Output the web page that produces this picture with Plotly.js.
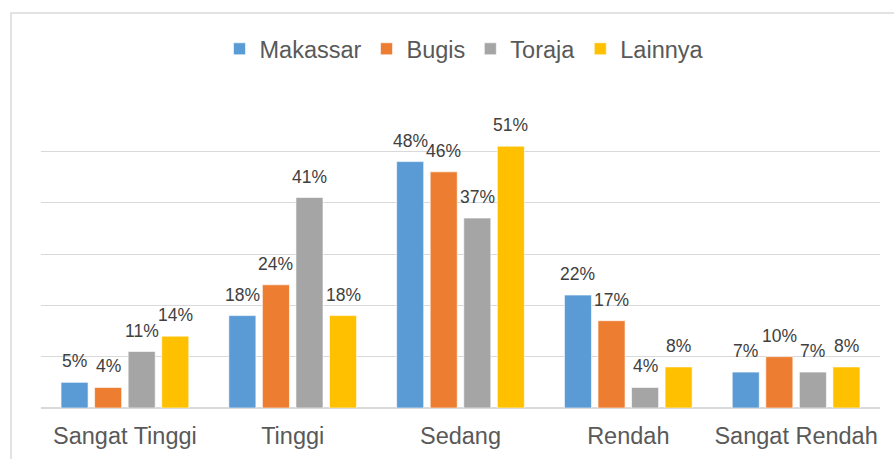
<!DOCTYPE html>
<html>
<head>
<meta charset="utf-8">
<script src="https://cdn.plot.ly/plotly-3.0.1.min.js"></script>
<style>html,body{margin:0;padding:0;background:#fff;}#chart{width:894px;height:459px;}</style>
</head>
<body>
<div id="chart"></div>
<script>
const categories = ["Sangat Tinggi", "Tinggi", "Sedang", "Rendah", "Sangat Rendah"];
const seriesNames = ["Makassar", "Bugis", "Toraja", "Lainnya"];
const makassar = [0.05, 0.18, 0.48, 0.22, 0.07];
const bugis    = [0.04, 0.24, 0.46, 0.17, 0.10];
const toraja   = [0.11, 0.41, 0.37, 0.04, 0.07];
const lainnya  = [0.14, 0.18, 0.51, 0.08, 0.08];
const colors = ["#5B9BD5", "#ED7D31", "#A5A5A5", "#FFC000"];

const allSeries = [makassar, bugis, toraja, lainnya];

const W = 894, H = 459;
const margin = {l: 41, r: 14, t: 100, b: 51};
const bargap = 0.2;
const plotW = W - margin.l - margin.r;
const catW = plotW / categories.length;
const slot = catW * (1 - bargap) / allSeries.length;

const traces = allSeries.map((vals, i) => ({
  type: "bar",
  name: seriesNames[i],
  x: categories,
  y: vals,
  marker: {color: colors[i], line: {color: "rgba(255,255,255,0.6)", width: 1}},
  hoverinfo: "skip"
}));

const annotations = [];
allSeries.forEach((vals, i) => {
  vals.forEach((v, j) => {
    annotations.push({
      x: categories[j], y: v, xref: "x", yref: "y",
      text: Math.round(v * 100) + "%",
      showarrow: false,
      yanchor: "bottom",
      xanchor: "center",
      xshift: (i - (allSeries.length - 1) / 2) * slot,
      yshift: 9,
      font: {family: "Liberation Sans, Arial, sans-serif", size: 17.5, color: "#404040"}
    });
  });
});

const plotH = H - margin.t - margin.b;
const layout = {
  width: W, height: H,
  margin: margin,
  paper_bgcolor: "#ffffff",
  plot_bgcolor: "rgba(0,0,0,0)",
  barmode: "group",
  bargap: bargap,
  bargroupgap: 0.194,
  font: {family: "Liberation Sans, Arial, sans-serif", color: "#595959"},
  showlegend: true,
  legend: {
    orientation: "h",
    x: (464.5 - margin.l) / plotW, xanchor: "center",
    y: 1 + (margin.t - 49) / plotH, yanchor: "middle",
    font: {size: 23.5, color: "#595959"},
    itemwidth: 30,
    traceorder: "normal",
    bgcolor: "rgba(0,0,0,0)"
  },
  xaxis: {
    type: "category",
    tickfont: {size: 23.5, color: "#595959"},
    ticks: "",
    showline: false,
    showgrid: false,
    ticklabelstandoff: 11,
    fixedrange: true
  },
  yaxis: {
    range: [0, 0.6],
    dtick: 0.1,
    showticklabels: false,
    showgrid: true,
    gridcolor: "#d9d9d9",
    gridwidth: 1,
    zeroline: true,
    zerolinecolor: "#d9d9d9",
    zerolinewidth: 1.5,
    showline: false,
    ticks: "",
    fixedrange: true
  },
  shapes: [{
    type: "rect", xref: "paper", yref: "paper", layer: "below",
    x0: (11 - margin.l) / plotW, x1: 1.2,
    y0: -0.5, y1: 1 + (margin.t - 13) / plotH,
    line: {color: "#d9d9d9", width: 1.5},
    fillcolor: "rgba(0,0,0,0)"
  }],
  annotations: annotations
};

Plotly.newPlot("chart", traces, layout, {displayModeBar: false, staticPlot: true});
</script>
</body>
</html>
